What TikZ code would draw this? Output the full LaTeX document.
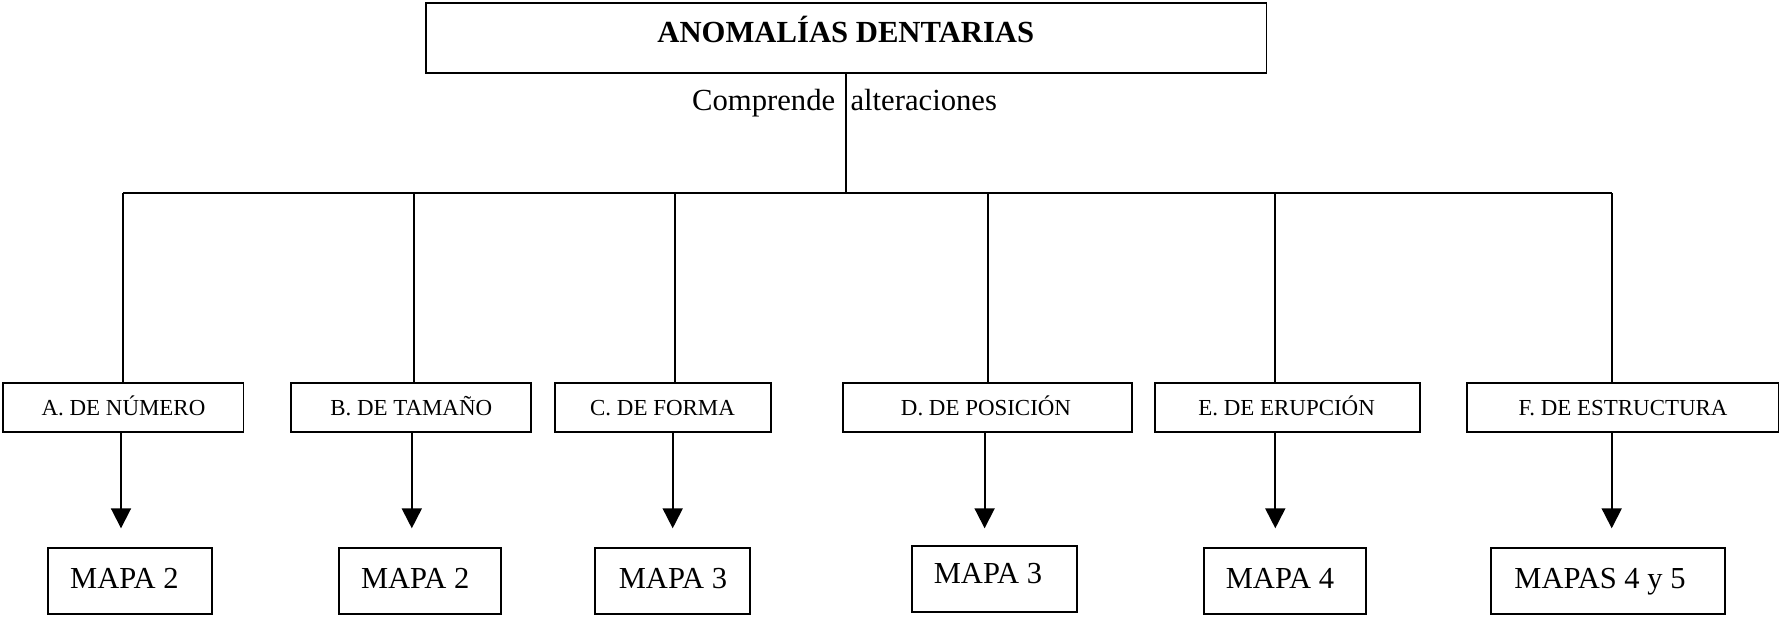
\documentclass[tikz,border=0pt]{standalone}
\usepackage{fontspec}
\setmainfont{Liberation Serif}
\usetikzlibrary{arrows.meta,fit}
\begin{document}
\begin{tikzpicture}[x=0.75pt,y=-0.75pt,
  box/.style={draw, line width=1.4pt, inner sep=0pt},
  ln/.style={line width=1.4pt},
  arr/.style={line width=1.4pt, -{Triangle[width=15pt,length=15pt]}},
  ttl/.style={font=\bfseries\fontsize{23}{26}\selectfont, inner sep=0pt, anchor=base},
  lbl/.style={font=\fontsize{23}{26}\selectfont, inner sep=0pt, anchor=base},
  cat/.style={font=\fontsize{17.2}{20}\selectfont, inner sep=0pt, anchor=base},
  mapa/.style={font=\fontsize{22.9}{26}\selectfont, inner sep=0pt, anchor=base},
]
\useasboundingbox[fill=white] (0,0) rectangle (1780,617);

% title
\node[box, fit={(425.8,2.7) (1266.5,73.3)}] (top) {};
\node[ttl] (ttext) at (845.8,43) {ANOMALÍAS DENTARIAS};
\node[lbl, anchor=base east] (comp) at (835.5,110) {Comprende};
\node[lbl, anchor=base west] (alt) at (850.3,110) {alteraciones};

% category boxes
\node[box, fit={(3.4,383.3) (243.5,431.7)}] (cA) {};
\node[box, fit={(291,383.3) (531,431.7)}] (cB) {};
\node[box, fit={(555,383.3) (771.4,431.7)}] (cC) {};
\node[box, fit={(843,383.3) (1132,431.7)}] (cD) {};
\node[box, fit={(1155,383.3) (1420,431.7)}] (cE) {};
\node[box, fit={(1467,383.3) (1778.5,431.7)}] (cF) {};

\node[cat] (tA) at (123.5,415.5) {A. DE NÚMERO};
\node[cat] (tB) at (411.2,415.5) {B. DE TAMAÑO};
\node[cat] (tC) at (662.5,415.5) {C. DE FORMA};
\node[cat] (tD) at (986,415.5) {D. DE POSICIÓN};
\node[cat] (tE) at (1286.6,415.5) {E. DE ERUPCIÓN};
\node[cat] (tF) at (1623,415.5) {F. DE ESTRUCTURA};

% map boxes
\node[box, fit={(47.8,548.3) (212.4,614.3)}] (mA) {};
\node[box, fit={(338.7,548.3) (500.6,614.3)}] (mB) {};
\node[box, fit={(595,548.3) (750,614.3)}] (mC) {};
\node[box, fit={(912,546.3) (1077.2,612.3)}] (mD) {};
\node[box, fit={(1203.7,548.3) (1365.6,614.3)}] (mE) {};
\node[box, fit={(1490.8,548.3) (1725.3,614.3)}] (mF) {};

\node[mapa] (pA) at (124.4,588.3) {MAPA 2};
\node[mapa] (pB) at (415.2,588.3) {MAPA 2};
\node[mapa] (pC) at (673,588.3) {MAPA 3};
\node[mapa] (pD) at (988,583.3) {MAPA 3};
\node[mapa] (pE) at (1280,588.3) {MAPA 4};
\node[mapa] (pF) at (1600,588.3) {MAPAS 4 y 5};

% junctions on the bar
\coordinate (jT) at (845.7,193);
\coordinate (jA) at (123.2,193);
\coordinate (jB) at (414,193);
\coordinate (jC) at (675.4,193);
\coordinate (jD) at (987.7,193);
\coordinate (jE) at (1275.3,193);
\coordinate (jF) at (1611.7,193);

\draw[ln] (top.south -| jT) -- (jT);
\draw[ln] (jA) -- (jF);
\foreach \k in {A,B,C,D,E,F}{
  \draw[ln] (j\k) -- (j\k |- c\k.north);
}

% arrow tips
\coordinate (aA) at (121,528.3);
\coordinate (aB) at (411.8,528.3);
\coordinate (aC) at (672.7,528.3);
\coordinate (aD) at (984.6,528.3);
\coordinate (aE) at (1275.3,528.3);
\coordinate (aF) at (1611.7,528.3);
\foreach \k in {A,B,C,D,E,F}{
  \draw[arr] (a\k |- c\k.south) -- (a\k);
}
\end{tikzpicture}
\end{document}
